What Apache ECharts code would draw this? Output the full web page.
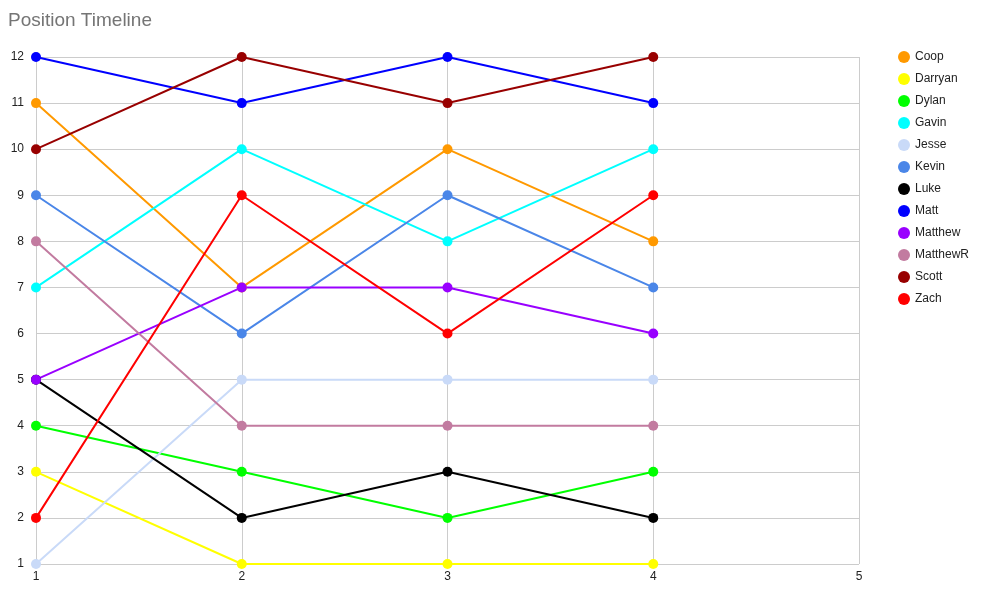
<!DOCTYPE html>
<html><head><meta charset="utf-8">
<script src="https://cdn.jsdelivr.net/npm/echarts@6/dist/echarts.min.js"></script>
<style>html,body{margin:0;padding:0;background:#fff}#c{width:985px;height:589px}</style>
</head><body><div id="c"></div>
<script>
var weeks = [1, 2, 3, 4];
var names = ['Coop','Darryan','Dylan','Gavin','Jesse','Kevin','Luke','Matt','Matthew','MatthewR','Scott','Zach'];
var colors = ['#ff9900','#ffff00','#00ff00','#00ffff','#c9daf8','#4a86e8','#000000','#0000ff','#9900ff','#c27ba0','#980000','#ff0000'];
var Coop = [11, 7, 10, 8];
var Darryan = [3, 1, 1, 1];
var Dylan = [4, 3, 2, 3];
var Gavin = [7, 10, 8, 10];
var Jesse = [1, 5, 5, 5];
var Kevin = [9, 6, 9, 7];
var Luke = [5, 2, 3, 2];
var Matt = [12, 11, 12, 11];
var Matthew = [5, 7, 7, 6];
var MatthewR = [8, 4, 4, 4];
var Scott = [10, 12, 11, 12];
var Zach = [2, 9, 6, 9];
var values = [Coop, Darryan, Dylan, Gavin, Jesse, Kevin, Luke, Matt, Matthew, MatthewR, Scott, Zach];

var series = names.map(function(n, i){
  return {
    name: n, type: 'line', color: colors[i],
    data: weeks.map(function(w, j){ return [w, values[i][j]]; }),
    symbol: 'circle', symbolSize: 10,
    lineStyle: {width: 2}, clip: false
  };
});

var chart = echarts.init(document.getElementById('c'));
chart.setOption({
  animation: false,
  title: {text: 'Position Timeline', left: 3, top: 6,
    textStyle: {fontFamily: 'Arial, Liberation Sans', fontSize: 19, fontWeight: 'normal', color: '#757575'}},
  legend: {orient: 'vertical', left: 893, top: 46, icon: 'circle', itemWidth: 12, itemHeight: 12, itemGap: 10,
    textStyle: {fontFamily: 'Arial, Liberation Sans', fontSize: 12, color: '#222'}, data: names},
  grid: {left: 36, right: 126, top: 57, bottom: 25},
  xAxis: {type: 'value', min: 1, max: 5, interval: 1,
    axisLine: {show: false}, axisTick: {show: false},
    axisLabel: {color: '#222', fontFamily: 'Arial, Liberation Sans', fontSize: 12, margin: 7},
    splitLine: {show: true, lineStyle: {color: '#cccccc', width: 1}}},
  yAxis: {type: 'value', min: 1, max: 12, interval: 1,
    axisLine: {show: false}, axisTick: {show: false},
    axisLabel: {color: '#222', fontFamily: 'Arial, Liberation Sans', fontSize: 12, margin: 12},
    splitLine: {show: true, lineStyle: {color: '#cccccc', width: 1}}},
  series: series
});
</script></body></html>
